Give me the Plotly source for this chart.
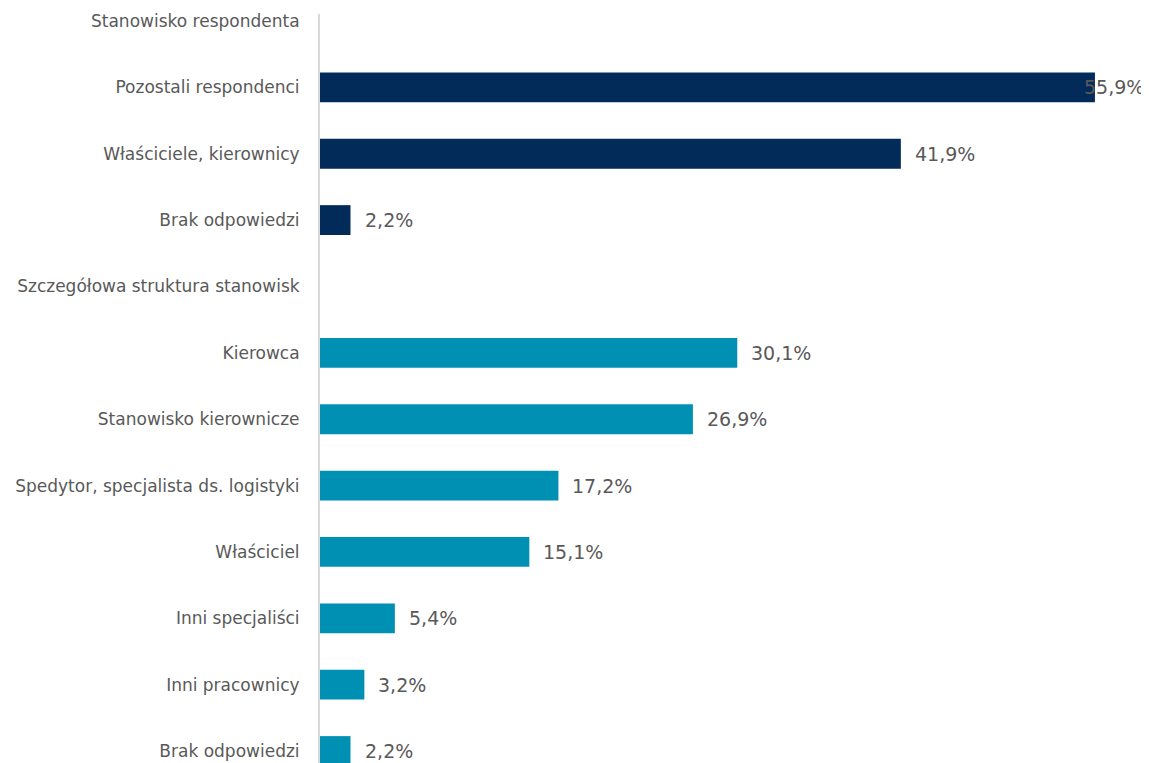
import plotly.graph_objects as go

categories = [
    "Stanowisko respondenta",
    "Pozostali respondenci",
    "Właściciele, kierownicy",
    "Brak odpowiedzi\u200b",
    "Szczegółowa struktura stanowisk",
    "Kierowca",
    "Stanowisko kierownicze",
    "Spedytor, specjalista ds. logistyki",
    "Właściciel",
    "Inni specjaliści",
    "Inni pracownicy",
    "Brak odpowiedzi",
]
values = [None, 55.9, 41.9, 2.2, None, 30.1, 26.9, 17.2, 15.1, 5.4, 3.2, 2.2]
groups = [None, "a", "a", "a", None, "b", "b", "b", "b", "b", "b", "b"]
group_colors = {"a": "#032B5A", "b": "#0090B4", None: "rgba(0,0,0,0)"}

def fmt(v):
    return "" if v is None else f"{v:.1f}".replace(".", ",") + "%"

fig = go.Figure()
fig.add_trace(go.Bar(
    y=categories,
    x=values,
    orientation="h",
    marker=dict(color=[group_colors[g] for g in groups], line=dict(width=0)),
    hoverinfo="skip",
))

xmax = 59.8
vmax = max(v for v in values if v is not None)
val_font = dict(family="DejaVu Sans", size=19, color="#595959")
for c, v in zip(categories, values):
    if v is None:
        continue
    if v == vmax:
        fig.add_annotation(x=1, xref="paper", y=c, yref="y", text=fmt(v),
                           showarrow=False, xanchor="right", xshift=-3,
                           font=val_font)
    else:
        fig.add_annotation(x=v, y=c, text=fmt(v), showarrow=False,
                           xanchor="left", xshift=12, font=val_font)

fig.update_layout(
    width=1141, height=755,
    margin=dict(l=312, r=0, t=6, b=0),
    plot_bgcolor="white", paper_bgcolor="white",
    bargap=0.55,
    showlegend=False,
    font=dict(family="DejaVu Sans", size=17, color="#595959"),
)
fig.update_xaxes(range=[0, xmax], visible=False, showgrid=False, zeroline=False)
fig.update_yaxes(
    type="category", categoryorder="array", categoryarray=categories,
    range=[11.18, -0.105], automargin=False,
    showline=True, linecolor="#D9D9D9", linewidth=2,
    ticks="", ticklabelstandoff=15, showgrid=False,
    tickfont=dict(family="DejaVu Sans", size=17, color="#595959"),
)
fig.write_html("out.html")
